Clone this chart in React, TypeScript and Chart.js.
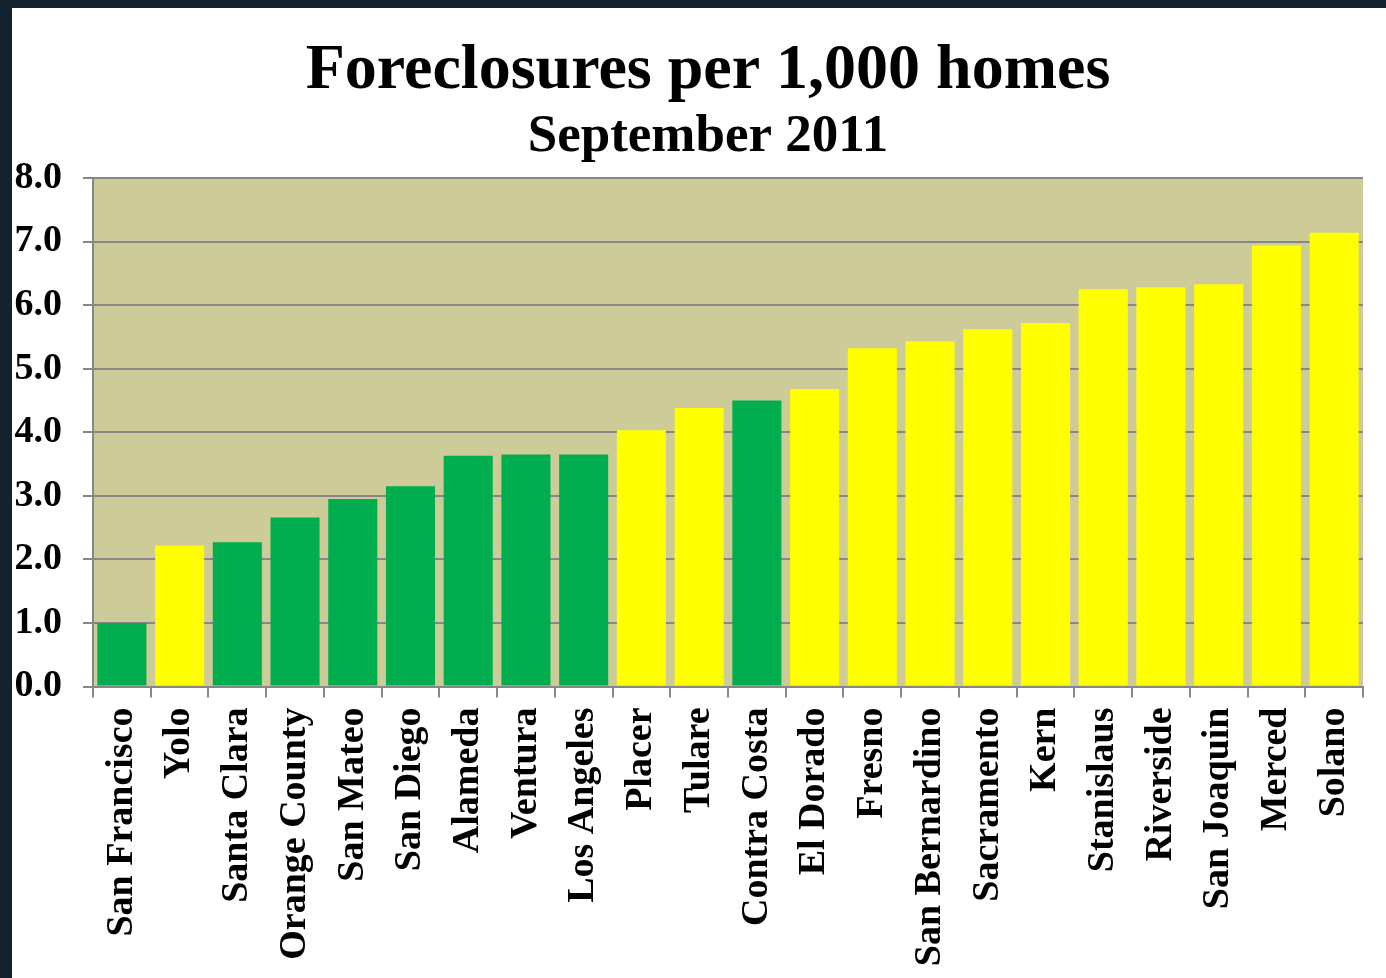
import React, { useEffect, useRef } from "react";
import { Chart, registerables } from "chart.js";

Chart.register(...registerables);

const counties = [
  "San Francisco", "Yolo", "Santa Clara", "Orange County", "San Mateo", "San Diego",
  "Alameda", "Ventura", "Los Angeles", "Placer", "Tulare", "Contra Costa",
  "El Dorado", "Fresno", "San Bernardino", "Sacramento", "Kern", "Stanislaus",
  "Riverside", "San Joaquin", "Merced", "Solano",
];

const foreclosuresPer1000 = [
  1.0, 2.22, 2.27, 2.66, 2.95, 3.15, 3.63, 3.65, 3.65, 4.03, 4.38, 4.5,
  4.68, 5.32, 5.43, 5.62, 5.72, 6.25, 6.28, 6.33, 6.94, 7.14,
];

// true = green bar, false = yellow bar
const greenBars = [
  true, false, true, true, true, true, true, true, true, false, false, true,
  false, false, false, false, false, false, false, false, false, false,
];

const titleText = "Foreclosures per 1,000 homes";
const subtitleText = "September 2011";

const GREEN = "#00AD4F";
const YELLOW = "#FFFF00";
const PLOT_BG = "#CDCC99";
const GRID = "#878787";
const FONT = "'Liberation Serif', 'Times New Roman', serif";

const plotBackground = {
  id: "plotBackground",
  beforeDraw(chart: any) {
    const { ctx, chartArea } = chart;
    ctx.save();
    ctx.fillStyle = PLOT_BG;
    ctx.fillRect(chartArea.left, chartArea.top, chartArea.right - chartArea.left, chartArea.bottom - chartArea.top);
    ctx.restore();
  },
};

const titles = {
  id: "titles",
  afterDraw(chart: any) {
    const { ctx } = chart;
    ctx.save();
    ctx.fillStyle = "#000";
    ctx.textAlign = "center";
    ctx.textBaseline = "alphabetic";
    ctx.font = `bold 64px ${FONT}`;
    ctx.fillText(titleText, 696, 80);
    ctx.font = `bold 53px ${FONT}`;
    ctx.fillText(subtitleText, 696, 143);
    ctx.restore();
  },
};

export default function App() {
  const ref = useRef<HTMLCanvasElement | null>(null);

  useEffect(() => {
    if (!ref.current) return;
    const chart = new Chart(ref.current, {
      type: "bar",
      data: {
        labels: counties,
        datasets: [
          {
            data: foreclosuresPer1000,
            backgroundColor: greenBars.map((g) => (g ? GREEN : YELLOW)),
            borderWidth: 0,
            categoryPercentage: 1,
            barPercentage: 0.85,
          },
        ],
      },
      options: {
        responsive: false,
        animation: false,
        devicePixelRatio: 1,
        layout: { padding: { left: 0, right: 23, top: 170, bottom: 0 } },
        plugins: {
          legend: { display: false },
          tooltip: { enabled: false },
          title: { display: false },
        },
        scales: {
          x: {
            grid: {
              display: true,
              offset: true,
              drawOnChartArea: false,
              drawTicks: true,
              tickLength: 11,
              color: GRID,
              lineWidth: 2,
            },
            border: { display: true, color: GRID, width: 2 },
            ticks: {
              autoSkip: false,
              maxRotation: 90,
              minRotation: 90,
              padding: 10,
              color: "#000",
              font: { family: FONT, size: 38, weight: "bold" },
            },
            afterFit(scale: any) {
              scale.height = 291.5;
              scale.paddingLeft = 0;
              scale.paddingRight = 0;
            },
          },
          y: {
            min: 0,
            max: 8,
            ticks: {
              stepSize: 1,
              padding: 21,
              color: "#000",
              font: { family: FONT, size: 38, weight: "bold" },
              callback: (v: any) => Number(v).toFixed(1),
            },
            grid: {
              color: GRID,
              lineWidth: 2,
              drawTicks: true,
              tickLength: 10,
            },
            border: { display: true, color: GRID, width: 2 },
            afterFit(scale: any) {
              scale.width = 81;
            },
          },
        },
      },
      plugins: [plotBackground, titles],
    });
    return () => chart.destroy();
  }, []);

  return (
    <div
      style={{
        position: "absolute",
        left: 0,
        top: 0,
        width: 1386,
        height: 978,
        background: "#12222E",
        overflow: "hidden",
      }}
    >
      <div
        style={{
          position: "absolute",
          left: 12,
          top: 8,
          width: 1374,
          height: 970,
          background: "#FFFFFF",
        }}
      >
        <canvas ref={ref} width={1374} height={970} style={{ width: 1374, height: 970, display: "block" }} />
      </div>
    </div>
  );
}
